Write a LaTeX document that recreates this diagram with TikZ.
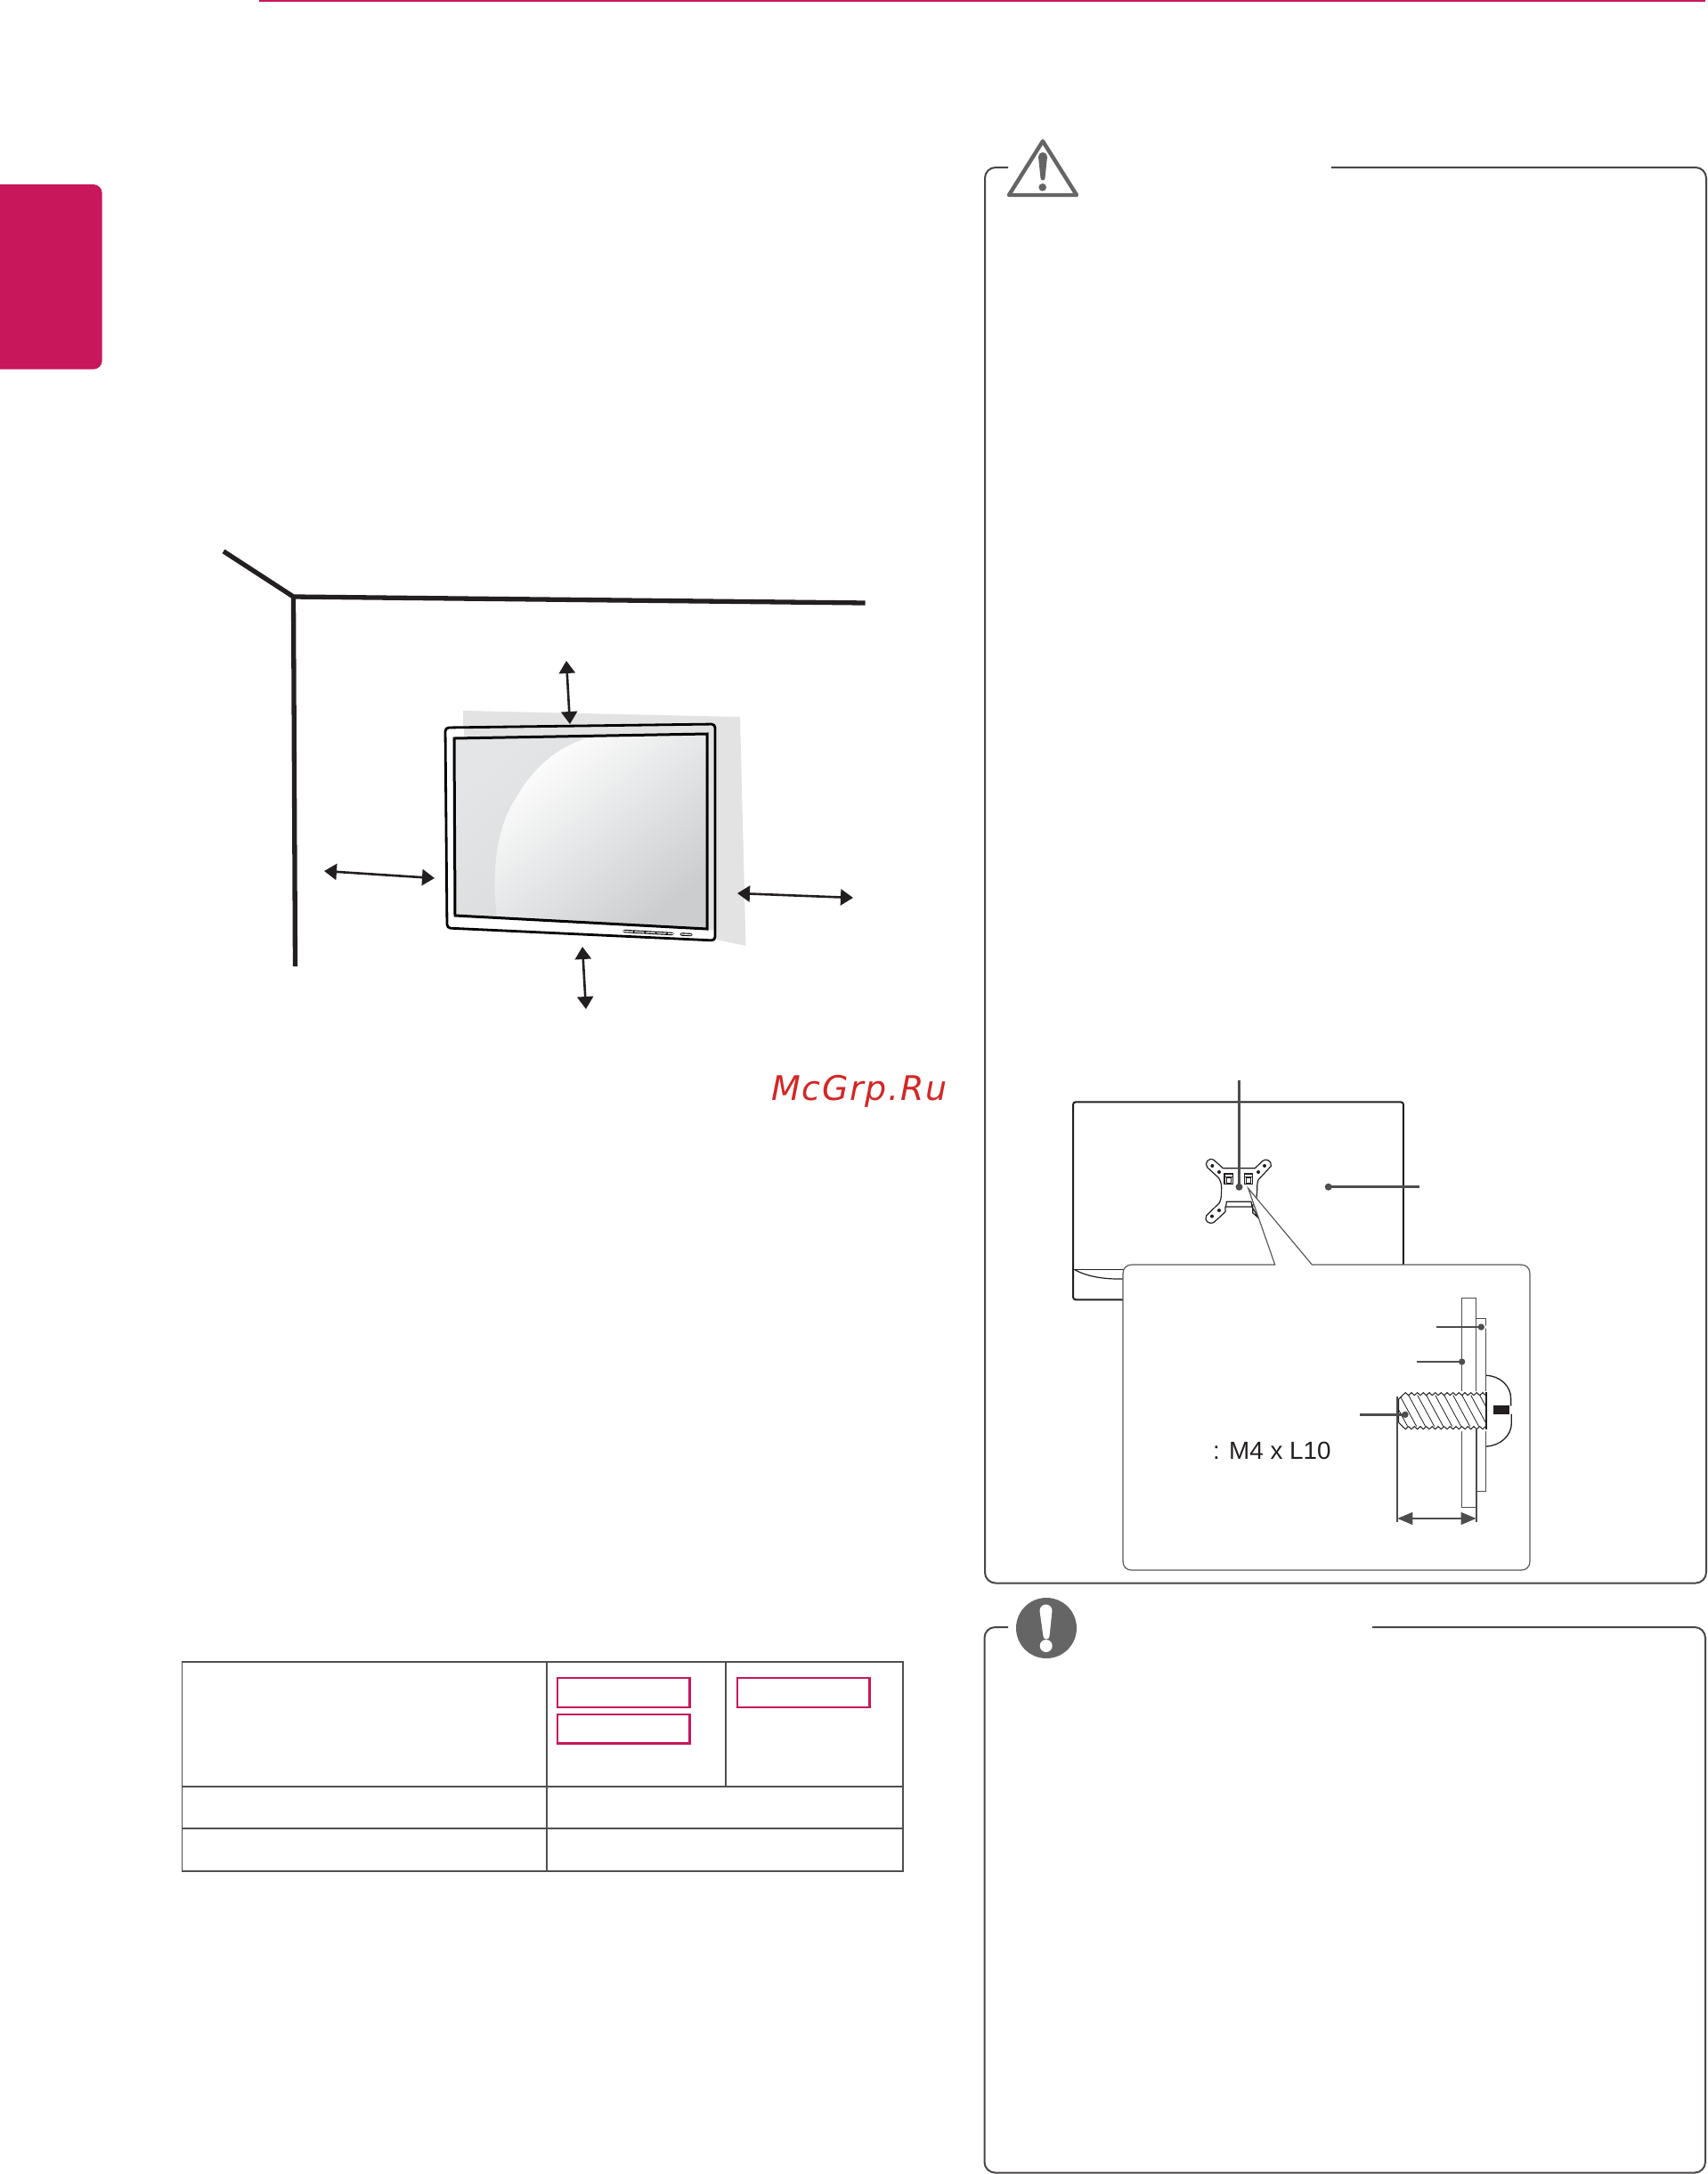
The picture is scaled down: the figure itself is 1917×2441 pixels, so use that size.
\documentclass[tikz,border=0pt]{standalone}
\usepackage{fontspec}
\setmainfont{Liberation Sans}
\newfontfamily\wmfont[LetterSpace=4.5]{DejaVu Sans}
\usetikzlibrary{arrows.meta}
\definecolor{lgred}{HTML}{C8175B}
\definecolor{ink}{HTML}{231F20}
\definecolor{boxgray}{HTML}{4A4647}
\definecolor{tablegray}{HTML}{4F4F4F}
\definecolor{iconcol}{HTML}{666565}
\definecolor{leadercol}{HTML}{4D4D4D}
\definecolor{wallgray}{HTML}{E3E3E3}
\definecolor{wmred}{HTML}{D42626}
\definecolor{scrA}{HTML}{E3E5E6}
\definecolor{scrB}{HTML}{D6D8D9}
\definecolor{hiA}{HTML}{FFFFFF}
\definecolor{hiB}{HTML}{CBCDCF}
\tikzset{
  panel/.style={draw=boxgray,line width=2pt,rounded corners=12pt},
  wall/.style={draw=ink,line width=5.3pt},
  gap/.style={draw=ink,line width=2.6pt,{Triangle[length=14pt,width=18pt]}-{Triangle[length=14pt,width=18pt]}},
  tline/.style={draw=tablegray,line width=1.7pt},
  redbox/.style={draw=lgred,line width=2.4pt},
  lead/.style={draw=leadercol,line width=2.6pt},
  thin part/.style={draw=ink,line width=1pt},
  dot/.style={fill=leadercol},
}
\begin{document}
\begin{tikzpicture}[x=1pt,y=-1pt]
\useasboundingbox (0,0) rectangle (1917,2441);
\fill[white] (0,0) rectangle (1917,2441);
% header
\draw[draw=lgred,line width=2pt] (291,0.8) -- (1915,0.8);
\fill[lgred,rounded corners=10pt] (-20,207) rectangle (114.7,414.7);
% wall
\draw[wall,line join=miter] (251,619) -- (329.5,670) -- (971.6,677);
\draw[wall] (329.5,668) -- (331.5,1085);
% wall patch
\fill[wallgray] (520,798) -- (831,805) -- (837.5,1062) -- (800,1054) -- (520,1000) -- cycle;
% monitor
\fill[white,rounded corners=4pt] (500,817) -- (803,813) -- (803,1056) -- (502,1042) -- cycle;
\fill[wallgray] (521,817) -- (803,813) -- (803,1045) -- (794,1043) -- (794,824) -- (521,829) -- cycle;
\draw[draw=black,line width=2.8pt,rounded corners=4pt]
  (500,817) -- (803,813) -- (803,1056) -- (502,1042) -- cycle;
\shade[top color=scrA,bottom color=scrB,shading angle=40] (510,829) -- (794,824) -- (794,1043) -- (511,1028) -- cycle;
\shade[top color=hiA,bottom color=hiB,shading angle=40]
  (667,827) -- (794,824) -- (794,1043) -- (558,1029) .. controls (552,985) and (556,930) .. (580,895) .. controls (600,860) and (630,835) .. (667,827) -- cycle;
\draw[draw=black,line width=3pt,line join=miter] (510,829) -- (794,824) -- (794,1043) -- (511,1028) -- cycle;
\draw[black,line width=3.4pt,line cap=round] (701,1045.5) -- (755,1048.5);
\draw[white,line width=1.2pt,dash pattern=on 11pt off 1.5pt] (700,1045.5) -- (756,1048.5);
\draw[black,line width=3.4pt,line cap=round] (765,1049) -- (776,1049.5);
\draw[white,line width=1.2pt,line cap=round] (765,1049) -- (776,1049.5);
% clearance arrows
\coordinate (ta) at (636,742); \coordinate (tb) at (640,813);
\coordinate (la) at (364,978); \coordinate (lb) at (488,986);
\coordinate (ra) at (828,1003); \coordinate (rb) at (958,1008);
\coordinate (ba) at (654,1063); \coordinate (bb) at (658,1133);
\draw[gap] (ta) -- (tb);
\draw[gap] (la) -- (lb);
\draw[gap] (ra) -- (rb);
\draw[gap] (ba) -- (bb);
% watermark
\node[anchor=base west,inner sep=0pt,text=wmred] (wm) at (866,1235)
  {\fontsize{38}{40}\selectfont\wmfont\itshape McGrp.Ru};
% caution panel
\draw[panel] (1132,188) -- (1106,188) -- (1106,1777.5) -- (1916,1777.5) -- (1916,188) -- (1495,188);
\draw[draw=iconcol,line width=4.4pt,line join=round] (1171,158.5) -- (1209,219) -- (1133,219) -- cycle;
\fill[iconcol] (1166,176) arc (180:360:5) -- (1173.5,200) arc (0:180:2.5) -- cycle;
\fill[iconcol] (1170.7,210.3) circle (4.3);
% note panel
\draw[panel] (1132,1827) -- (1105.5,1827) -- (1105.5,2439.5) -- (1915,2439.5) -- (1915,1827) -- (1541,1827);
\fill[iconcol] (1175,1828) circle (34);
\fill[white] (1167.5,1808.5) arc (180:360:7) -- (1178.5,1837) arc (0:180:3.5) -- cycle;
\fill[white] (1174.7,1848) circle (7);
% rear view of the monitor
\begin{scope}[shift={(1150,1190)},x=0.3333pt,y=-0.3333pt]
  \draw[draw=ink,line width=2pt,rounded corners=3pt] (165,142) rectangle (1278,808);
  \draw[draw=ink,line width=1.4pt] (165,707) -- (340,707);
  \draw[draw=ink,line width=1.2pt] (170,707) .. controls (210,728) and (260,740) .. (340,738);
  % bracket
  \draw[thin part,fill=white,line width=1.2pt,line join=round]
    (670,365) -- (778,365) -- (803,341) .. controls (815,330) and (835,340) .. (832,358) -- (790,403)
    .. controls (785,412) and (785,425) .. (785,440) -- (783,465) -- (770,490) -- (770,515) -- (790,533)
    -- (768,495) -- (678,495) -- (678,512) -- (640,547) .. controls (622,556) and (606,542) .. (614,525)
    -- (658,482) .. controls (665,470) and (665,450) .. (665,430) .. controls (665,415) and (660,405) .. (655,397)
    -- (617,362) .. controls (606,348) and (622,326) .. (640,338) -- cycle;
  \draw[thin part,line width=1.2pt] (680,495) -- (682,478) -- (765,478) -- (768,495);
  \foreach \hx/\hy in {634/357,657/378,810/357,789/378,657/507,633/527} \fill[ink] (\hx,\hy) circle (6);
  \foreach \sx in {675,742} {
    \draw[thin part,line width=1.3pt] (\sx,384) rectangle ++(28,34);
    \draw[thin part,line width=1.3pt] (\sx+7,398) rectangle ++(15,18);
    \draw[thin part,line width=1.3pt] (\sx,394) -- ++(28,0);
  }
\end{scope}
% callout
\draw[draw=boxgray!90,fill=white,line width=1.2pt,line join=miter]
  (1401.7,1334.3) -- (1431.7,1420) -- (1271,1420) .. controls (1265,1420) and (1261,1424) .. (1261,1430)
  -- (1261,1753) .. controls (1261,1759) and (1265,1763) .. (1271,1763)
  -- (1708,1763) .. controls (1714,1763) and (1718,1759) .. (1718,1753)
  -- (1718,1430) .. controls (1718,1424) and (1714,1420) .. (1708,1420)
  -- (1473.3,1420) -- cycle;
% leaders on the rear view
\coordinate (va) at (1391.5,1212.7); \coordinate (vb) at (1391.5,1332.7);
\draw[lead] (va) -- (vb);
\fill[dot] (vb) circle (4);
\coordinate (ha) at (1491.7,1332.7); \coordinate (hb) at (1594,1332.7);
\draw[lead] (ha) -- (hb);
\fill[dot] (ha) circle (4);
% screw section
\begin{scope}[shift={(1250,1420)},x=0.3333pt,y=-0.3333pt]
  \draw[draw=leadercol,line width=1pt] (1174,113) rectangle (1223,818);
  \draw[draw=leadercol,line width=1pt] (1223,180) -- (1257,180) -- (1257,763) -- (1227,763);
  % screw body
  \fill[white] (958,425) rectangle (1258,560);
  \begin{scope}
    \clip (975,440) -- (1257,440) -- (1257,545) -- (975,545) -- (962,532) -- (962,453) -- cycle;
    \foreach \hx in {900,930,...,1260}
      \draw[draw=ink,line width=0.8pt] (\hx,430) -- (\hx+66,552);
  \end{scope}
  \draw[draw=ink,line width=1pt] (962,532) -- (962,453) -- (975,440)
    \foreach \tx in {975,995,...,1235} { -- (\tx+10,431) -- (\tx+20,440) } -- (1257,431);
  \draw[draw=ink,line width=1pt] (962,532) -- (975,545)
    \foreach \tx in {975,995,...,1235} { -- (\tx+10,554) -- (\tx+20,545) } -- (1257,554);
  \draw[draw=ink,line width=1.1pt] (1257,430) -- (1257,555);
  % head
  \draw[draw=ink,line width=1.3pt] (1257,373) .. controls (1305,375) and (1340,410) .. (1340,450) -- (1340,476);
  \draw[draw=ink,line width=1.3pt] (1257,612) .. controls (1305,610) and (1342,575) .. (1342,535) -- (1342,503);
  \fill[ink] (1282,475) rectangle (1335,505);
  % dimension
  \draw[draw=leadercol,line width=1.1pt] (957,445) -- (957,868);
  \draw[draw=leadercol,line width=1.1pt] (1224,553) -- (1224,868);
  \coordinate (da) at (958,855); \coordinate (db) at (1223,855);
  \draw[draw=leadercol,fill=leadercol,line width=1.1pt,{Triangle[length=17pt,width=14pt]}-{Triangle[length=17pt,width=14pt]}] (da) -- (db);
  % leaders
  \fill[white] (1240,210) circle (17);
  \coordinate (l1a) at (1088,210); \coordinate (l1b) at (1240,210);
  \coordinate (l2a) at (1022,327); \coordinate (l2b) at (1175,327);
  \coordinate (l3a) at (832,505); \coordinate (l3b) at (984,505);
  \draw[lead] (l1a) -- (l1b); \fill[dot] (l1b) circle (11);
  \draw[lead] (l2a) -- (l2b); \fill[dot] (l2b) circle (11);
  \draw[lead] (l3a) -- (l3b); \fill[dot] (l3b) circle (11);
\end{scope}
\node[anchor=base west,inner sep=0pt,text=ink] (spec) at (1362,1638)
  {\fontsize{27.8}{30}\selectfont : M4 x L10};
% table
\draw[tline] (204.5,1865.7) rectangle (1014,2101);
\draw[tline] (204.5,2005.7) -- (1014,2005.7);
\draw[tline] (204.5,2052.7) -- (1014,2052.7);
\draw[tline] (613.7,1865.7) -- (613.7,2101);
\draw[tline] (815,1865.7) -- (815,2005.7);
\draw[redbox] (625.8,1884) rectangle (774.5,1917);
\draw[redbox] (625.8,1925) rectangle (774.5,1957.5);
\draw[redbox] (828,1884) rectangle (976.5,1917);
\end{tikzpicture}
\end{document}
